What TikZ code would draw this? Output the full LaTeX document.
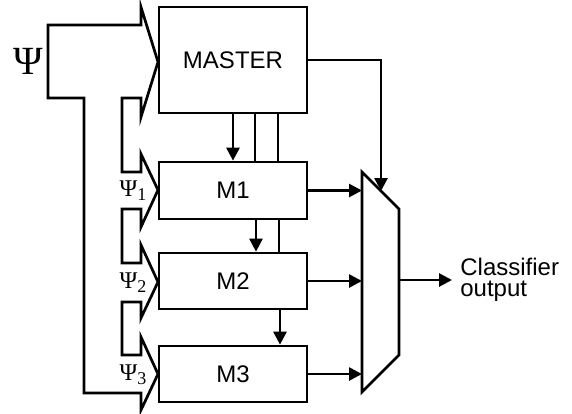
\documentclass[tikz,border=0pt]{standalone}
\usepackage{fontspec}
\setmainfont{Liberation Sans}
\newfontfamily\psifont{Liberation Serif}
\usetikzlibrary{arrows.meta}

\newcommand{\psisub}[1]{{\psifont Ψ\raisebox{-0.35ex}{\fontsize{9}{10}\selectfont #1}}}

\tikzset{
  blk/.style={draw, inner sep=0pt, minimum width=74pt, font=\fontsize{12}{14}\selectfont},
  arr/.style={-{Triangle[length=6.5pt,width=6.5pt]}},
}

\begin{document}
\begin{tikzpicture}[x=0.5pt, y=-0.5pt, line width=1.35pt]
        \useasboundingbox (0,0) rectangle (572,413);
        \node [blk, minimum height=53pt] (master) at (233,60) {MASTER};
        \node [blk, minimum height=28.5pt] (m1) at (233,190.5) {M1};
        \node [blk, minimum height=28pt] (m2) at (233,281) {M2};
        \node [blk, minimum height=28pt] (m3) at (233,374) {M3};
        % input bus
        \draw (48,25) -- (141,25) -- (141,7) -- (158,62) -- (141,117) -- (141,98) -- (122,98) -- (122,172) -- (141,172) -- (141,154) -- (158,190) -- (141,227) -- (141,209) -- (122,209) -- (122,263) -- (141,263) -- (141,245) -- (158,282) -- (141,318) -- (141,302) -- (122,302) -- (122,355) -- (141,355) -- (141,337) -- (158,374) -- (141,410) -- (141,393) -- (84,393) -- (84,98) -- (48,98) -- cycle;
        \path (28,61) node (psi) {\fontsize{20}{24}\psifont Ψ};
        \path (133,191) node (psi1) {\fontsize{12}{14}\selectfont\psisub{1}};
        \path (133,283) node (psi2) {\fontsize{12}{14}\selectfont\psisub{2}};
        \path (133,375) node (psi3) {\fontsize{12}{14}\selectfont\psisub{3}};
        % selector
        \draw (362,172) coordinate (mux-a) -- (399,209) coordinate (mux-b) -- (399,355) coordinate (mux-c) -- (362,392) coordinate (mux-d) -- cycle;
        \coordinate (mux-top) at (381,191);
        \draw [arr] (master.south) -- (m1.north);
        \draw ([xshift=11pt]master.south) -- ([xshift=11pt]m1.north);
        \draw ([xshift=22.5pt]master.south) -- ([xshift=22.5pt]m1.north);
        \draw [arr] ([xshift=11.5pt]m1.south) -- ([xshift=11.5pt]m2.north);
        \draw ([xshift=23pt]m1.south) -- ([xshift=23pt]m2.north);
        \draw [arr] ([xshift=23.5pt]m2.south) -- ([xshift=23.5pt]m3.north);
        \draw [arr] (m1.east) -- (m1.east -| mux-a);
        \draw [arr] (m2.east) -- (m2.east -| mux-a);
        \draw [arr] (m3.east) -- (m3.east -| mux-a);
        \draw [arr] (master.east) -| (mux-top);
        \path (452,280) node [anchor=west, align=left, inner sep=3.5pt, font=\fontsize{12}{10.5}\selectfont] (out) {Classifier\\output};
        \draw [arr] (mux-c |- out.west) -- (out.west);
\end{tikzpicture}
\end{document}
